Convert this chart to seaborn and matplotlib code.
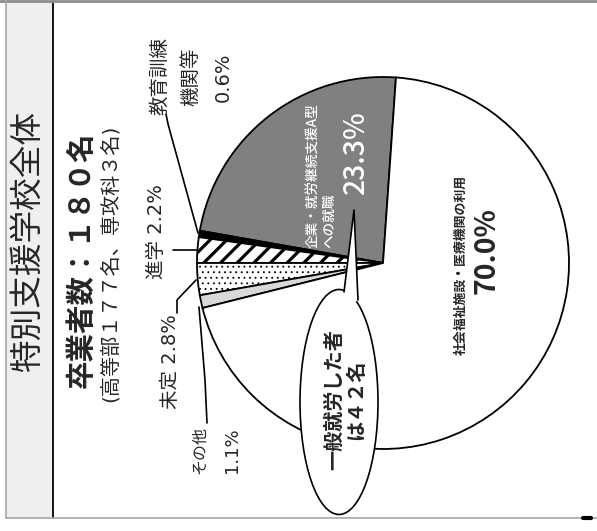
import matplotlib
matplotlib.use("Agg")
import matplotlib.pyplot as plt
import seaborn as sns
from matplotlib.patches import Ellipse, Polygon, Rectangle

# ---- data ----
categories = ["企業・就労継続支援A型への就職", "教育訓練機関等", "進学", "未定", "その他",
              "社会福祉施設・医療機関の利用"]
counts = [42, 1, 4, 5, 2, 126]
pct_labels = ["23.3%", "0.6%", "2.2%", "2.8%", "1.1%", "70.0%"]
title = "特別支援学校全体"
total_line = "卒業者数：１８０名"
sub_line = "(高等部１７７名、専攻科３名)"
bubble_text = "一般就労した者\nは４２名"

sns.set_theme(style="white")
plt.rcParams["font.family"] = ["DejaVu Sans", "Noto Sans CJK JP"]
plt.rcParams["axes.unicode_minus"] = False

W, H = 597, 531
fig = plt.figure(figsize=(W / 100, H / 100), dpi=100)
ax = fig.add_axes([0, 0, 1, 1])

colors = ["#808080", "#000000", "white", "white", "#d9d9d9", "white"]
hatches = [None, None, "//", "...", None, None]

wedges, _ = ax.pie(counts, colors=colors, startangle=-86, counterclock=False,
                   center=(383, 263), radius=186,
                   wedgeprops=dict(edgecolor="black", linewidth=1.3))
for w, h in zip(wedges, hatches):
    if h:
        w.set_hatch(h)
        lw = 2.3 if "/" in h else 0.6
        if hasattr(w, "set_hatch_linewidth"):
            w.set_hatch_linewidth(lw)
        else:
            w._hatch_linewidth = lw

ax.set_xlim(0, W)
ax.set_ylim(H, 0)
ax.set_aspect("equal")
ax.axis("off")

CJK = ["Noto Sans CJK JP", "DejaVu Sans"]
MIX = ["DejaVu Sans", "Noto Sans CJK JP"]


def T(x, y, s, size, family=MIX, ha="center", va="center", **kw):
    ax.text(x, y, s, fontsize=size, family=family, rotation=90,
            rotation_mode="anchor", ha=ha, va=va, zorder=10, **kw)


# frame and title box
ax.add_patch(Rectangle((6, 1), 47, 517, facecolor="#efefef", edgecolor="none", zorder=0))
ax.plot([53, 53], [1, 518], color="black", lw=1.3, zorder=1)
ax.plot([0, W], [1, 1], color="#8c8c8c", lw=2, zorder=1)
ax.plot([6, W], [518, 518], color="#a6a6a6", lw=1.2, zorder=1)
ax.plot([6, 6], [1, 518], color="#a6a6a6", lw=1.2, zorder=1)
ax.plot([583, 591], [518, 518], color="black", lw=3, zorder=2)

T(28, 242, title, 23.5, family=CJK)
T(82, 260, total_line, 20.5, family=CJK, fontweight="bold")
T(110, 263, sub_line, 14.5)

# outside labels
T(160, 76, "教育訓練", 14)
T(191, 77, "機関等", 14)
T(223, 77, pct_labels[1], 14)
T(157, 232, categories[2] + " " + pct_labels[2], 14)
T(170, 362, categories[3] + " " + pct_labels[3], 14)
T(200, 450, categories[4], 11.5)
T(232, 450, pct_labels[4], 13)

# leader lines
lk = dict(color="black", lw=1.2, zorder=9)
ax.plot([166, 168, 198], [114, 124, 233], **lk)
ax.plot([173, 197], [250, 250], **lk)
ax.plot([177, 177, 196], [313, 300, 280], **lk)
ax.plot([207, 205, 199], [423, 380, 307], **lk)

# inside labels
T(321, 248, "企業・就労継続支援A型\nへの就職", 9.8, family=CJK, ha="left",
  color="white", multialignment="left", linespacing=1.15, fontweight="medium")
T(355, 152, pct_labels[0], 20.5, family=CJK, color="white", fontweight="medium")
T(461, 265, categories[5], 9.3, family=CJK, fontweight="bold")
T(487, 251, pct_labels[5], 20.5, family=CJK, fontweight="bold")

# speech bubble
ax.add_patch(Ellipse((339, 402), 78, 225, facecolor="white", edgecolor="black",
                     lw=1.2, zorder=6))
ax.add_patch(Polygon([(354, 210), (344, 292), (350, 306), (358, 300)],
                     closed=True, facecolor="white", edgecolor="none", zorder=7))
ax.plot([344, 354, 358], [292, 210, 300], color="black", lw=1.2, zorder=8)
T(345, 400, bubble_text, 14.5, family=CJK, fontweight="bold",
  multialignment="center", linespacing=1.05)

fig.savefig("out.png", dpi=100)
